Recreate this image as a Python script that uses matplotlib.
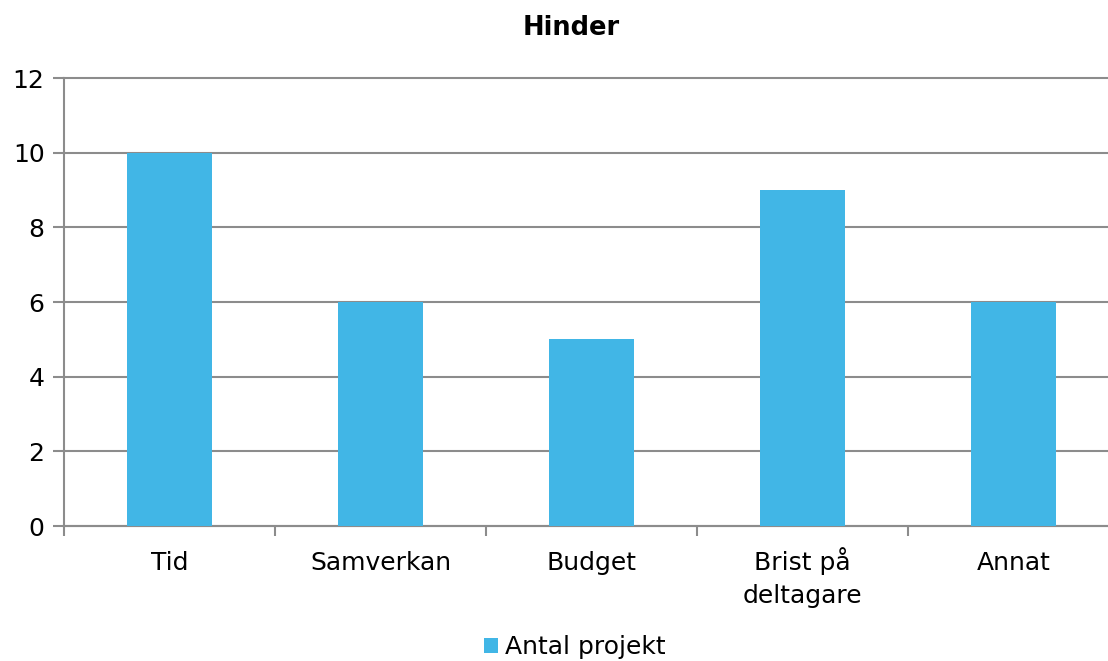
import matplotlib.pyplot as plt
from matplotlib.ticker import FixedLocator, MultipleLocator
import numpy as np

# data
categories = ["Tid", "Samverkan", "Budget", "Brist på\ndeltagare", "Annat"]
antal_projekt = [10, 6, 5, 9, 6]

plt.rcParams['font.family'] = ['DejaVu Sans']

fig = plt.figure(figsize=(11.08, 6.61), dpi=100)
ax = fig.add_axes([64 / 1108, 135 / 661, 1055 / 1108, 448 / 661])

x = np.arange(len(categories))
ax.bar(x, antal_projekt, width=0.4, color="#41B6E6", label="Antal projekt", zorder=3)

ax.set_xlim(-0.5, len(categories) - 0.5)
ax.set_ylim(0, 12)
ax.yaxis.set_major_locator(MultipleLocator(2))
ax.grid(axis="y", color="#8c8c8c", linewidth=1.5, zorder=0)
for gl in ax.get_ygridlines():
    gl.set_clip_on(False)

# boundary ticks, labels drawn line by line so baselines line up
ax.xaxis.set_major_locator(FixedLocator(np.arange(-0.5, len(categories), 1)))
ax.set_xticklabels([])
ax.tick_params(axis="x", which="major", length=7, width=1.5, color="#8c8c8c")
ax.tick_params(axis="y", length=8, width=1.5, color="#8c8c8c", labelsize=18, pad=6)
for xi, lab in zip(x, categories):
    for k, line in enumerate(lab.split("\n")):
        ax.text(xi, -(44 + 33 * k) / 448, line, transform=ax.get_xaxis_transform(),
                ha="center", va="baseline", fontsize=18)

for side in ["top", "right"]:
    ax.spines[side].set_visible(False)
for side in ["left", "bottom"]:
    ax.spines[side].set_color("#8c8c8c")
    ax.spines[side].set_linewidth(1.5)

fig.text(571 / 1108, 1 - 28 / 661, "Hinder", ha="center", va="center",
         fontsize=18.5, fontweight="bold")

fig.legend(loc="center", bbox_to_anchor=(575 / 1108, 1 - 647 / 661), frameon=False,
           fontsize=18, handlelength=0.55, handleheight=0.55, handletextpad=0.3)

fig.savefig("out.png", dpi=100)
